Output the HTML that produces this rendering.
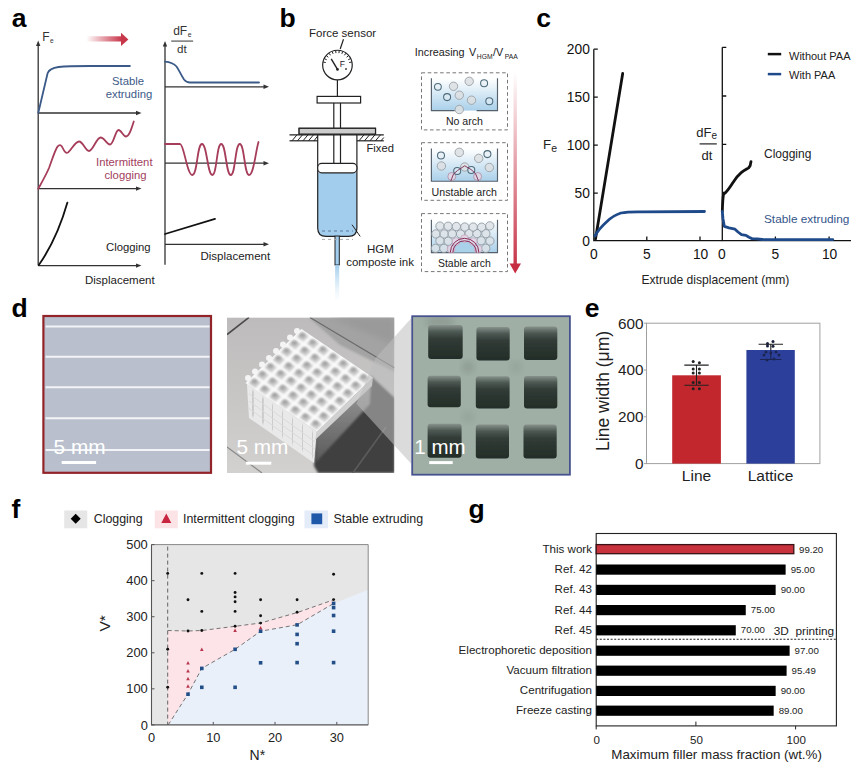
<!DOCTYPE html>
<html><head><meta charset="utf-8">
<style>
html,body{margin:0;padding:0;background:#fff;}
body{width:857px;height:768px;overflow:hidden;}
svg{display:block;font-family:"Liberation Sans",Arial,sans-serif;}
.lbl{font-weight:bold;font-size:26.5px;fill:#000;}
</style></head><body>
<svg width="857" height="768" viewBox="0 0 857 768">
<defs>
  <linearGradient id="gArrowR" x1="0" x2="1" y1="0" y2="0">
    <stop offset="0" stop-color="#c8364a" stop-opacity="0"/>
    <stop offset="1" stop-color="#c8364a" stop-opacity="1"/>
  </linearGradient>
  <linearGradient id="gArrowD" x1="0" x2="0" y1="0" y2="1">
    <stop offset="0" stop-color="#c8364a" stop-opacity="0"/>
    <stop offset="1" stop-color="#c8364a" stop-opacity="1"/>
  </linearGradient>
  <linearGradient id="gBeaker" x1="0" x2="0" y1="0" y2="1">
    <stop offset="0" stop-color="#ffffff"/>
    <stop offset="1" stop-color="#a9d0ea"/>
  </linearGradient>
  <linearGradient id="gStream" x1="0" x2="0" y1="0" y2="1">
    <stop offset="0" stop-color="#9ecbeb" stop-opacity="0.95"/>
    <stop offset="0.5" stop-color="#b8daf1" stop-opacity="0.5"/>
    <stop offset="1" stop-color="#d8ebf8" stop-opacity="0"/>
  </linearGradient>
  <radialGradient id="gBall" cx="0.4" cy="0.4" r="0.6">
    <stop offset="0" stop-color="#e8eaec"/>
    <stop offset="1" stop-color="#c4c9ce"/>
  </radialGradient>
  <marker id="ah" viewBox="0 0 10 10" refX="9" refY="5" markerWidth="6" markerHeight="6" orient="auto-start-reverse">
    <path d="M0,1 L10,5 L0,9 z" fill="#333"/>
  </marker>
</defs>

<!-- ================= PANEL A ================= -->
<text class="lbl" x="11.8" y="26.9">a</text>
<g stroke="#333" stroke-width="1.3" fill="none">
  <line x1="38.2" y1="265.6" x2="38.2" y2="44"/>
  <line x1="38.2" y1="113" x2="138" y2="113"/>
  <line x1="38.2" y1="188.6" x2="138" y2="188.6"/>
  <line x1="38.2" y1="265.6" x2="138" y2="265.6"/>
  <line x1="165" y1="264.8" x2="165" y2="44.5"/>
  <line x1="165" y1="86.8" x2="265.5" y2="86.8"/>
  <line x1="165" y1="163.2" x2="265.5" y2="163.2"/>
  <line x1="165" y1="244.3" x2="265.5" y2="244.3"/>
</g>
<g fill="#333">
  <path d="M38.2,40.5 L36,46 L40.4,46 z"/>
  <path d="M165,41 L162.8,46.5 L167.2,46.5 z"/>
  <path d="M141.5,113 L136,110.8 L136,115.2 z"/>
  <path d="M141.5,188.6 L136,186.4 L136,190.8 z"/>
  <path d="M141.5,265.6 L136,263.4 L136,267.8 z"/>
  <path d="M269,86.8 L263.5,84.6 L263.5,89 z"/>
  <path d="M269,163.2 L263.5,161 L263.5,165.4 z"/>
  <path d="M269,244.3 L263.5,242.1 L263.5,246.5 z"/>
</g>
<!-- arrow -->
<rect x="86.3" y="36.3" width="35.5" height="5.2" fill="url(#gArrowR)"/>
<path d="M121,32.7 L128.4,39.4 L121,45.9 z" fill="#c8364a"/>
<!-- curves -->
<g fill="none" stroke-width="1.8" stroke-linecap="round" stroke-linejoin="round">
  <path stroke="#3b5a88" d="M38.3,112.8 L47.6,73.2 C49,69.4 52,68 58.6,67 C66,66.2 78,66 90,66 L129.9,66"/>
  <path stroke="#3b5a88" d="M165,61.6 C170,62 173.5,63 176.5,66.5 C179,70 181,75 184,79.5 C186,82 187.5,82.5 190,82.5 L259,82.5"/>
  <path stroke="#a63d5a" d="M38.2,188.8 C42,182 45.5,176 49,168 C52,160 55,150 57.5,146.6 C59.8,144 61.5,145 63,148.5 C64.5,152 66,153.5 68,152.5 C71,150.5 75,141.5 79,141.5 C83,141.5 85.5,151 89,151 C93,151 96.5,137.5 100.6,137.5 C104.5,137.5 106.5,144.5 110,144.5 C113.5,144.5 115.5,130 118.5,130 C121.5,130 123,136.5 126,136.5 C129.5,136.5 131.5,128 133.8,121.5"/>
  <path stroke="#a63d5a" d="M165,144 L180,144 C184,144 187,175 192.3,175 C197.5,175 197,144 202,144 C207,144 207.5,175 212.3,175 C217,175 216.5,144 221.2,144 C226,144 226,175 230.8,175 C235.5,175 235,144 239.8,144 C244.5,144 244.3,175 249,175 C253.7,175 255.5,152 258.5,142"/>
  <path stroke="#111" d="M38.8,265 C48,252 59,232 67.4,202.6"/>
  <path stroke="#111" d="M165,234 L215,218.9"/>
</g>
<g font-size="11.3" fill="#333">
  <text x="42.2" y="41.1" font-size="12">F<tspan font-size="6.6" dy="1.7" dx="0.5">e</tspan></text>
  <text x="128" y="84.6" text-anchor="middle" fill="#3d5a88">Stable</text>
  <text x="129" y="97.7" text-anchor="middle" fill="#3d5a88">extruding</text>
  <text x="124.3" y="165.5" text-anchor="middle" fill="#a23d5c">Intermittent</text>
  <text x="125.5" y="179.4" text-anchor="middle" fill="#a23d5c">clogging</text>
  <text x="106" y="251" fill="#222">Clogging</text>
  <text x="85" y="283.5" fill="#222" font-size="11.5">Displacement</text>
  <text x="200.5" y="259.8" fill="#222" font-size="11.5">Displacement</text>
  <text x="173.2" y="34.9" font-size="12">dF<tspan font-size="6.8" dy="1.6" dx="0.6">e</tspan></text>
  <line x1="171.2" y1="41.1" x2="193.1" y2="41.1" stroke="#777" stroke-width="1.5"/>
  <text x="177.1" y="52.9" font-size="11.6">dt</text>
</g>

<!-- ================= PANEL B ================= -->
<text class="lbl" x="279.6" y="27.1">b</text>
<g font-size="11.5" fill="#222">
  <text x="309" y="37.1">Force sensor</text>
  <text x="366.5" y="151.8" font-size="11.2">Fixed</text>
  <text x="367" y="252.7" font-size="11.5">HGM</text>
  <text x="346.2" y="265.5" font-size="11.5">composte ink</text>
</g>
<g stroke="#222" stroke-width="1.2" fill="none">
  <line x1="343.5" y1="39.3" x2="340.2" y2="49"/>
  <circle cx="337.45" cy="65.05" r="14.8" fill="#fff"/>
  <line x1="337.4" y1="80" x2="337.4" y2="96.4"/>
  <rect x="317.1" y="96.4" width="43.5" height="6.6" fill="#fff"/>
  <rect x="299.1" y="128.3" width="76.4" height="5.8" fill="#ccc"/>
  <line x1="289.5" y1="134.8" x2="383.8" y2="134.8"/>
  <line x1="289.5" y1="140.8" x2="317.7" y2="140.8"/>
  <line x1="356.9" y1="140.8" x2="383.8" y2="140.8"/>
</g>
<g stroke="#222" stroke-width="1">
  <path d="M292,140.8 L297,134.8 M297.5,140.8 L302.5,134.8 M303,140.8 L308,134.8 M308.5,140.8 L313.5,134.8 M314,140.8 L317.7,136"/>
  <path d="M359,140.8 L364,134.8 M364.5,140.8 L369.5,134.8 M370,140.8 L375,134.8 M375.5,140.8 L380.5,134.8 M381,140.8 L383.8,137.5"/>
</g>
<!-- gauge ticks -->
<g stroke="#222" stroke-width="1"><line x1="323.17" y1="62.01" x2="325.71" y2="62.56"/><line x1="324.35" y1="58.61" x2="326.68" y2="59.76"/><line x1="326.33" y1="55.59" x2="328.31" y2="57.28"/><line x1="328.98" y1="53.16" x2="330.49" y2="55.28"/><line x1="332.15" y1="51.44" x2="333.1" y2="53.87"/><line x1="335.65" y1="50.56" x2="335.97" y2="53.14"/><line x1="339.25" y1="50.56" x2="338.93" y2="53.14"/><line x1="342.75" y1="51.44" x2="341.8" y2="53.87"/><line x1="345.92" y1="53.16" x2="344.41" y2="55.28"/><line x1="348.57" y1="55.59" x2="346.59" y2="57.28"/><line x1="350.55" y1="58.61" x2="348.22" y2="59.76"/><line x1="351.73" y1="62.01" x2="349.19" y2="62.56"/></g>
<path d="M337.5,69.4 L331.2,58.9" stroke="#222" stroke-width="1.4"/>
<circle cx="337.5" cy="69.4" r="1.3" fill="#222"/>
<text x="339.8" y="66.5" font-size="8.5" fill="#222">F</text>
<circle cx="346" cy="68.9" r="1" fill="#444"/>
<!-- syringe -->
<path d="M317.7,172.8 L356.9,172.8 L356.9,228 Q356.9,236.4 348.5,236.4 L326.1,236.4 Q317.7,236.4 317.7,228 z" fill="#a3cded"/>
<rect x="335" y="236" width="4.3" height="29" fill="#a3cded" stroke="#222" stroke-width="1"/>
<rect x="335.1" y="265" width="4.1" height="37" fill="url(#gStream)"/>
<g stroke="#222" stroke-width="1.2" fill="none">
  <path d="M317.7,134.8 L317.7,228 Q317.7,236.4 326.1,236.4 L335,236.4 M339.3,236.4 L348.5,236.4 Q356.9,236.4 356.9,228 L356.9,134.8"/>
  <path d="M333.8,103 L333.8,163.4 M340.5,103 L340.5,163.4"/>
  <rect x="317.7" y="163.4" width="39.2" height="9.4" rx="4" fill="#fff"/>
  <rect x="299.1" y="128.3" width="76.4" height="5.8" fill="#ccc"/>
  <line x1="352" y1="224.7" x2="360.2" y2="236.4" stroke-width="1"/>
</g>
<line x1="322" y1="231" x2="353" y2="231" stroke="#5a7a99" stroke-width="1" stroke-dasharray="3,3"/>
<line x1="322" y1="239.4" x2="353" y2="239.4" stroke="#aaa" stroke-width="1" stroke-dasharray="3,3"/>

<text transform="translate(414.8,55.5) scale(0.915,1)" font-size="11.8" fill="#222">Increasing <tspan dx="1.5">V</tspan><tspan font-size="7.4" dy="3.6" dx="0.8">HGM</tspan><tspan dy="-3.6" dx="0.4">/V</tspan><tspan font-size="7.4" dy="3.6" dx="1.8">PAA</tspan></text>
<g fill="none" stroke="#777" stroke-width="1" stroke-dasharray="3.6,2.6">
  <rect x="421.5" y="72.8" width="86" height="57.1"/>
  <rect x="421.5" y="142.7" width="86" height="57.6"/>
  <rect x="421.5" y="213.6" width="86" height="58"/>
</g>
<g>
  <rect x="431.4" y="78.3" width="66.1" height="32.3" fill="url(#gBeaker)"/>
  <rect x="431.4" y="148.5" width="66.1" height="32.7" fill="url(#gBeaker)"/>
  <rect x="431.4" y="219.8" width="66.1" height="32.8" fill="url(#gBeaker)"/>
</g>
<g stroke="#56616c" stroke-width="1.15" fill="none">
  <path d="M431.4,78.3 L431.4,110.6 L454.7,110.6 M476.6,110.6 L497.5,110.6 L497.5,78.3"/>
  <path d="M431.4,148.5 L431.4,181.2 L497.5,181.2 L497.5,148.5"/>
  <path d="M431.4,219.8 L431.4,252.6 L497.5,252.6 L497.5,219.8"/>
</g>
<circle cx="437.9" cy="86.8" r="3.4" fill="#e3edf3" fill-opacity="0.55" stroke="#4d6a7a" stroke-width="1.05"/><circle cx="453.5" cy="86.3" r="4.2" fill="#dcdfe2" fill-opacity="0.85" stroke="#9aa0a6" stroke-width="0.9"/><circle cx="469.2" cy="81.3" r="4.2" fill="#dcdfe2" fill-opacity="0.85" stroke="#9aa0a6" stroke-width="0.9"/><circle cx="484.1" cy="83.2" r="3.5" fill="#e3edf3" fill-opacity="0.55" stroke="#4d6a7a" stroke-width="1.05"/><circle cx="447.1" cy="97.1" r="3.5" fill="#e3edf3" fill-opacity="0.55" stroke="#4d6a7a" stroke-width="1.05"/><circle cx="459.3" cy="95.2" r="4.2" fill="#dcdfe2" fill-opacity="0.85" stroke="#9aa0a6" stroke-width="0.9"/><circle cx="471.5" cy="100.2" r="4.2" fill="#dcdfe2" fill-opacity="0.85" stroke="#9aa0a6" stroke-width="0.9"/><circle cx="489.3" cy="101.2" r="3.5" fill="#e3edf3" fill-opacity="0.55" stroke="#4d6a7a" stroke-width="1.05"/><circle cx="459.3" cy="109.5" r="4.2" fill="#dcdfe2" fill-opacity="0.85" stroke="#9aa0a6" stroke-width="0.9"/><circle cx="441" cy="155.5" r="3.5" fill="#e3edf3" fill-opacity="0.55" stroke="#4d6a7a" stroke-width="1.05"/><circle cx="459.3" cy="152.4" r="4.3" fill="#dcdfe2" fill-opacity="0.85" stroke="#9aa0a6" stroke-width="0.9"/><circle cx="478.7" cy="158.4" r="4.2" fill="#dcdfe2" fill-opacity="0.85" stroke="#9aa0a6" stroke-width="0.9"/><circle cx="487.4" cy="154.1" r="3.5" fill="#e3edf3" fill-opacity="0.55" stroke="#4d6a7a" stroke-width="1.05"/><circle cx="441.4" cy="166" r="4.2" fill="#dcdfe2" fill-opacity="0.85" stroke="#9aa0a6" stroke-width="0.9"/><circle cx="489.3" cy="167.5" r="4.2" fill="#dcdfe2" fill-opacity="0.85" stroke="#9aa0a6" stroke-width="0.9"/><circle cx="451.8" cy="176.5" r="4" fill="#e8d7e4" fill-opacity="0.8" stroke="#a98aa3" stroke-width="0.8"/><circle cx="457.2" cy="171" r="3.5" fill="#e3edf3" fill-opacity="0.55" stroke="#4d6a7a" stroke-width="1.05"/><circle cx="464.7" cy="167" r="4.2" fill="#dcdfe2" fill-opacity="0.85" stroke="#9aa0a6" stroke-width="0.9"/><circle cx="471.3" cy="170" r="3.5" fill="#e3edf3" fill-opacity="0.55" stroke="#4d6a7a" stroke-width="1.05"/><circle cx="477.6" cy="176.5" r="4" fill="#e8d7e4" fill-opacity="0.8" stroke="#a98aa3" stroke-width="0.8"/><path d="M450.8,181 L453.5,174 L457.5,170.5 L464.7,165.8 L471,169.5 L475.5,173.5 L478.5,181" fill="none" stroke="#7a2a55" stroke-width="0.9"/><circle cx="435.49" cy="248.33" r="4.15" fill="#dde2e6" fill-opacity="0.82" stroke="#8e979e" stroke-width="0.85"/><circle cx="443.9" cy="248.36" r="4.15" fill="#dde2e6" fill-opacity="0.82" stroke="#8e979e" stroke-width="0.85"/><circle cx="485.77" cy="248.29" r="4.15" fill="#dde2e6" fill-opacity="0.82" stroke="#8e979e" stroke-width="0.85"/><circle cx="439.96" cy="240.79" r="4.15" fill="#dde2e6" fill-opacity="0.82" stroke="#8e979e" stroke-width="0.85"/><circle cx="448.26" cy="241.22" r="4.15" fill="#dde2e6" fill-opacity="0.82" stroke="#8e979e" stroke-width="0.85"/><circle cx="481.19" cy="240.72" r="4.15" fill="#dde2e6" fill-opacity="0.82" stroke="#8e979e" stroke-width="0.85"/><circle cx="489.94" cy="240.98" r="4.15" fill="#dde2e6" fill-opacity="0.82" stroke="#8e979e" stroke-width="0.85"/><circle cx="435.88" cy="233.93" r="4.15" fill="#dde2e6" fill-opacity="0.82" stroke="#8e979e" stroke-width="0.85"/><circle cx="444.17" cy="233.95" r="4.15" fill="#dde2e6" fill-opacity="0.82" stroke="#8e979e" stroke-width="0.85"/><circle cx="452.22" cy="233.88" r="4.15" fill="#dde2e6" fill-opacity="0.82" stroke="#8e979e" stroke-width="0.85"/><circle cx="460.56" cy="233.96" r="4.15" fill="#dde2e6" fill-opacity="0.82" stroke="#8e979e" stroke-width="0.85"/><circle cx="469.2" cy="233.46" r="4.15" fill="#dde2e6" fill-opacity="0.82" stroke="#8e979e" stroke-width="0.85"/><circle cx="476.91" cy="233.53" r="4.15" fill="#dde2e6" fill-opacity="0.82" stroke="#8e979e" stroke-width="0.85"/><circle cx="485.87" cy="233.66" r="4.15" fill="#dde2e6" fill-opacity="0.82" stroke="#8e979e" stroke-width="0.85"/><circle cx="439.95" cy="226.08" r="4.15" fill="#dde2e6" fill-opacity="0.82" stroke="#8e979e" stroke-width="0.85"/><circle cx="448.16" cy="226.22" r="4.15" fill="#dde2e6" fill-opacity="0.82" stroke="#8e979e" stroke-width="0.85"/><circle cx="456.33" cy="226.54" r="4.15" fill="#dde2e6" fill-opacity="0.82" stroke="#8e979e" stroke-width="0.85"/><circle cx="464.82" cy="227.05" r="4.15" fill="#dde2e6" fill-opacity="0.82" stroke="#8e979e" stroke-width="0.85"/><circle cx="473.2" cy="227.09" r="4.15" fill="#dde2e6" fill-opacity="0.82" stroke="#8e979e" stroke-width="0.85"/><circle cx="481.64" cy="227.19" r="4.15" fill="#dde2e6" fill-opacity="0.82" stroke="#8e979e" stroke-width="0.85"/><circle cx="489.79" cy="225.86" r="4.15" fill="#dde2e6" fill-opacity="0.82" stroke="#8e979e" stroke-width="0.85"/><path d="M452.6,252.6 A12,12 0 0 1 476.6,252.6 z" fill="#a9d1ea"/><circle cx="451.1" cy="249.0" r="3.9" fill="#ead6e4" fill-opacity="0.75" stroke="#c0a0b8" stroke-width="0.7"/><circle cx="456.0" cy="241.6" r="3.9" fill="#ead6e4" fill-opacity="0.75" stroke="#c0a0b8" stroke-width="0.7"/><circle cx="464.6" cy="238.6" r="3.9" fill="#ead6e4" fill-opacity="0.75" stroke="#c0a0b8" stroke-width="0.7"/><circle cx="473.2" cy="241.6" r="3.9" fill="#ead6e4" fill-opacity="0.75" stroke="#c0a0b8" stroke-width="0.7"/><circle cx="478.1" cy="249.0" r="3.9" fill="#ead6e4" fill-opacity="0.75" stroke="#c0a0b8" stroke-width="0.7"/><path d="M450.3,252.6 A14.3,14.3 0 0 1 478.9,252.6 M452.8,252.6 A11.8,11.8 0 0 1 476.4,252.6" fill="none" stroke="#8a2a55" stroke-width="1"/>
<g font-size="11.3" fill="#222">
  <text x="464.4" y="125.2" text-anchor="middle" textLength="37" lengthAdjust="spacingAndGlyphs">No arch</text>
  <text x="464.3" y="196.4" text-anchor="middle" textLength="65.4" lengthAdjust="spacingAndGlyphs">Unstable arch</text>
  <text x="464.4" y="266.7" text-anchor="middle" textLength="52.8" lengthAdjust="spacingAndGlyphs">Stable arch</text>
</g>
<rect x="513.5" y="72" width="3.4" height="192" fill="url(#gArrowD)"/>
<path d="M509.6,263.5 L521,263.5 L515.2,273.6 z" fill="#c62d42"/>

<!-- ================= PANEL C ================= -->
<text class="lbl" x="536.2" y="27">c</text>
<g stroke="#111" stroke-width="1.3" fill="none">
  <path d="M593.8,49.2 L593.8,240.6 L722.3,240.6"/>
  <path d="M593.8,49.2 L597.8,49.2 M593.8,97.1 L597.8,97.1 M593.8,145.2 L597.8,145.2 M593.8,193.2 L597.8,193.2"/>
  <path d="M646.8,240.6 L646.8,236.5 M700,240.6 L700,236.5"/>
  <path d="M722.3,47.3 L722.3,240.6 L851,240.6"/>
  <path d="M722.3,47.3 L726.3,47.3 M722.3,96 L726.3,96 M722.3,144.3 L726.3,144.3 M722.3,192.5 L726.3,192.5"/>
  <path d="M775.4,240.6 L775.4,236.5 M829.1,240.6 L829.1,236.5"/>
</g>
<g font-size="13.8" fill="#111" text-anchor="end">
  <text x="589.9" y="54.3">200</text>
  <text x="589.9" y="102.2">150</text>
  <text x="589.9" y="150.3">100</text>
  <text x="589.9" y="198.3">50</text>
  <text x="589.9" y="245.9">0</text>
</g>
<g font-size="13.8" fill="#111" text-anchor="middle">
  <text x="593.8" y="258.7">0</text>
  <text x="646.8" y="258.7">5</text>
  <text x="700.6" y="258.7">10</text>
  <text x="721.9" y="258.7">0</text>
  <text x="775.4" y="258.7">5</text>
  <text x="829.6" y="258.7">10</text>
</g>
<g fill="none" stroke-width="2.8" stroke-linejoin="round" stroke-linecap="round">
  <path stroke="#111" d="M595.5,239 L622.7,73.5"/>
  <path stroke="#1f4a8a" d="M595,236 C598,230 602,226 607,221.5 C611,217.5 615,215 620.9,213 C628,211.5 636,211.8 642,211.8 L704.5,211.5"/>
  <path stroke="#111" d="M722.3,211.5 C722.6,203 722.8,197 723.6,194 L725.6,192.6 C728,190.3 730.5,186.5 733,182.6 C735.5,178.6 738.5,174.8 741.2,172.6 C744,170.3 746.5,169.2 748.6,167.9 L750.2,165.6 L751,161.6"/>
  <path stroke="#1f4a8a" d="M722.3,211.3 L723,219 L724.3,226.3 L729,227.8 L735,229.2 L738,232 L741.5,234.7 L746,235.4 L749,237.3 L752,238.6 L757,238.9 L762,239.5 L832.8,239.6"/>
</g>
<line x1="767.8" y1="54.1" x2="781.2" y2="54.1" stroke="#111" stroke-width="2.5"/>
<line x1="767.8" y1="74.1" x2="781.2" y2="74.1" stroke="#1f4a8a" stroke-width="2.5"/>
<g font-size="11" fill="#222">
  <text x="789" y="59.7">Without PAA</text>
  <text x="789" y="78.9">With PAA</text>
  <text x="764" y="157.6" font-size="12">Clogging</text>
  <text x="764" y="223.4" font-size="11.8" fill="#34558a">Stable extruding</text>
  <text x="641.5" y="283.6" font-size="12.1">Extrude displacement (mm)</text>
  <text x="543" y="148.8" font-size="13.3">F<tspan font-size="10.5" dy="3.2">e</tspan></text>
  <text x="696.3" y="136.8" font-size="13">dF<tspan font-size="10" dy="2.6">e</tspan></text>
  <line x1="699.6" y1="143.9" x2="716.8" y2="143.9" stroke="#222" stroke-width="1.2"/>
  <text x="701.5" y="159.8" font-size="13">dt</text>
</g>
<text class="lbl" x="11.6" y="316.7">d</text>
<rect x="43.4" y="316" width="167.6" height="156.8" fill="#b9bfcc" stroke="#922429" stroke-width="2.2"/>
<line x1="45.6" y1="326.5" x2="209.5" y2="326.5" stroke="#f2f4f7" stroke-width="2"/>
<line x1="45.6" y1="356.8" x2="209.5" y2="356.8" stroke="#f2f4f7" stroke-width="2"/>
<line x1="45.6" y1="387.2" x2="209.5" y2="387.2" stroke="#f2f4f7" stroke-width="2"/>
<line x1="45.6" y1="418.2" x2="209.5" y2="418.2" stroke="#f2f4f7" stroke-width="2"/>
<line x1="45.6" y1="449.9" x2="209.5" y2="449.9" stroke="#f2f4f7" stroke-width="2"/>
<line x1="61.7" y1="462.5" x2="96.1" y2="462.5" stroke="#fff" stroke-width="3.2"/>
<text x="53.6" y="453.5" font-size="20.8" fill="#fff">5 mm</text>
<defs><clipPath id="cp2"><rect x="227" y="317.4" width="167.3" height="155.6"/></clipPath><filter id="bl1" x="-20%" y="-20%" width="140%" height="140%"><feGaussianBlur stdDeviation="1.2"/></filter><filter id="bl2" x="-20%" y="-20%" width="140%" height="140%"><feGaussianBlur stdDeviation="3"/></filter><filter id="bl05"><feGaussianBlur stdDeviation="0.6"/></filter><linearGradient id="gBg2" x1="0" y1="0" x2="0" y2="1"><stop offset="0" stop-color="#bdbbbb"/><stop offset="1" stop-color="#d2d1cf"/></linearGradient><linearGradient id="gSq" x1="0" y1="0" x2="0" y2="1"><stop offset="0" stop-color="#87928c"/><stop offset="0.2" stop-color="#4d5853"/><stop offset="0.42" stop-color="#313b36"/><stop offset="1" stop-color="#232d28"/></linearGradient></defs>
<g clip-path="url(#cp2)">
<rect x="227" y="317.4" width="167.3" height="155.6" fill="url(#gBg2)"/>
<path d="M309,317.4 L394.7,317.4 L394.7,372 L340,345 z" fill="#a3a3a3" filter="url(#bl1)"/>
<path d="M330,317.4 L394.7,317.4 L394.7,345 z" fill="#9a9a9a" filter="url(#bl2)"/>
<line x1="310" y1="317.4" x2="394.7" y2="368" stroke="#6a6a6a" stroke-width="1.2" filter="url(#bl05)"/>
<line x1="227" y1="334.5" x2="249" y2="317.4" stroke="#4a4a4a" stroke-width="1.6"/>
<line x1="227" y1="447" x2="262" y2="473" stroke="#8a8a8a" stroke-width="1.2" filter="url(#bl05)"/>
<defs><linearGradient id="gRF" x1="0" y1="0" x2="0" y2="1"><stop offset="0" stop-color="#a0a0a0"/><stop offset="1" stop-color="#5a5a5a"/></linearGradient></defs>
<path d="M316.5,436 L371.1,375.9 L394.7,398 L394.7,473 L318,473 L314,466 z" fill="#404040" filter="url(#bl1)"/>
<path d="M371.1,375.9 L316.5,436 L316,462 L370,404 z" fill="url(#gRF)" filter="url(#bl1)"/>
<line x1="352.8" y1="473" x2="386" y2="427" stroke="#5c5c5c" stroke-width="1.5" filter="url(#bl05)"/>
<path d="M246.9,383.75 L316.7,431.7 L314,463 L249,418 z" fill="#e9e9e9" filter="url(#bl05)"/>
<line x1="252.4" y1="390.5" x2="252.9" y2="416.5" stroke="#bcbcbc" stroke-width="2.4" filter="url(#bl08)"/>
<line x1="262.4" y1="397.4" x2="262.9" y2="423.4" stroke="#bcbcbc" stroke-width="2.4" filter="url(#bl08)"/>
<line x1="272.3" y1="404.2" x2="272.8" y2="430.2" stroke="#bcbcbc" stroke-width="2.4" filter="url(#bl08)"/>
<line x1="282.3" y1="411.1" x2="282.8" y2="437.1" stroke="#bcbcbc" stroke-width="2.4" filter="url(#bl08)"/>
<line x1="292.3" y1="417.9" x2="292.8" y2="443.9" stroke="#bcbcbc" stroke-width="2.4" filter="url(#bl08)"/>
<line x1="302.2" y1="424.8" x2="302.7" y2="450.8" stroke="#bcbcbc" stroke-width="2.4" filter="url(#bl08)"/>
<line x1="312.2" y1="431.6" x2="312.7" y2="457.6" stroke="#bcbcbc" stroke-width="2.4" filter="url(#bl08)"/>
<line x1="249" y1="393.8" x2="315" y2="441.7" stroke="#dadada" stroke-width="1" filter="url(#bl05)"/>
<line x1="249" y1="401.1" x2="315" y2="449.0" stroke="#dadada" stroke-width="1" filter="url(#bl05)"/>
<line x1="249" y1="408.4" x2="315" y2="456.4" stroke="#dadada" stroke-width="1" filter="url(#bl05)"/>
<path d="M316.7,431.7 L372.9,377.5 L372,386 L315,440 z" fill="#d0d0d0" filter="url(#bl05)"/>
<filter id="bl08" x="-30%" y="-30%" width="160%" height="160%"><feGaussianBlur stdDeviation="0.9"/></filter>
<path d="M301.5,329 L372.9,377.5 L316.9,431.5 L245.5,383 z" fill="#fafafa" filter="url(#bl05)"/>
<path d="M301.9,331.6 L308.8,336.3 L303.4,341.6 L296.5,336.9 z" fill="#c9c9c9" filter="url(#bl08)"/>
<ellipse cx="302.4" cy="335.2" rx="2.8" ry="2.2" fill="#a4a4a4" filter="url(#bl08)"/>
<path d="M293.9,339.4 L300.8,344.1 L295.4,349.3 L288.5,344.6 z" fill="#c9c9c9" filter="url(#bl08)"/>
<ellipse cx="294.4" cy="342.9" rx="2.8" ry="2.2" fill="#a4a4a4" filter="url(#bl08)"/>
<path d="M285.9,347.1 L292.8,351.8 L287.4,357.0 L280.5,352.3 z" fill="#c9c9c9" filter="url(#bl08)"/>
<ellipse cx="286.4" cy="350.6" rx="2.8" ry="2.2" fill="#a4a4a4" filter="url(#bl08)"/>
<path d="M277.9,354.8 L284.8,359.5 L279.4,364.7 L272.5,360.0 z" fill="#c9c9c9" filter="url(#bl08)"/>
<ellipse cx="278.4" cy="358.3" rx="2.8" ry="2.2" fill="#a4a4a4" filter="url(#bl08)"/>
<path d="M269.9,362.5 L276.8,367.2 L271.4,372.4 L264.5,367.7 z" fill="#c9c9c9" filter="url(#bl08)"/>
<ellipse cx="270.4" cy="366.0" rx="2.8" ry="2.2" fill="#a4a4a4" filter="url(#bl08)"/>
<path d="M261.9,370.2 L268.8,374.9 L263.4,380.2 L256.5,375.5 z" fill="#c9c9c9" filter="url(#bl08)"/>
<ellipse cx="262.4" cy="373.7" rx="2.8" ry="2.2" fill="#a4a4a4" filter="url(#bl08)"/>
<path d="M253.9,377.9 L260.8,382.6 L255.4,387.9 L248.5,383.2 z" fill="#c9c9c9" filter="url(#bl08)"/>
<ellipse cx="254.4" cy="381.4" rx="2.8" ry="2.2" fill="#a4a4a4" filter="url(#bl08)"/>
<path d="M312.1,338.6 L319.0,343.3 L313.6,348.5 L306.7,343.8 z" fill="#c9c9c9" filter="url(#bl08)"/>
<ellipse cx="312.6" cy="342.1" rx="2.8" ry="2.2" fill="#a4a4a4" filter="url(#bl08)"/>
<path d="M304.1,346.3 L311.0,351.0 L305.6,356.2 L298.7,351.5 z" fill="#c9c9c9" filter="url(#bl08)"/>
<ellipse cx="304.6" cy="349.8" rx="2.8" ry="2.2" fill="#a4a4a4" filter="url(#bl08)"/>
<path d="M296.1,354.0 L303.0,358.7 L297.6,363.9 L290.7,359.2 z" fill="#c9c9c9" filter="url(#bl08)"/>
<ellipse cx="296.6" cy="357.5" rx="2.8" ry="2.2" fill="#a4a4a4" filter="url(#bl08)"/>
<path d="M288.1,361.7 L295.0,366.4 L289.6,371.7 L282.7,367.0 z" fill="#c9c9c9" filter="url(#bl08)"/>
<ellipse cx="288.6" cy="365.2" rx="2.8" ry="2.2" fill="#a4a4a4" filter="url(#bl08)"/>
<path d="M280.1,369.4 L287.0,374.1 L281.6,379.4 L274.7,374.7 z" fill="#c9c9c9" filter="url(#bl08)"/>
<ellipse cx="280.6" cy="372.9" rx="2.8" ry="2.2" fill="#a4a4a4" filter="url(#bl08)"/>
<path d="M272.1,377.1 L279.0,381.8 L273.6,387.1 L266.7,382.4 z" fill="#c9c9c9" filter="url(#bl08)"/>
<ellipse cx="272.6" cy="380.6" rx="2.8" ry="2.2" fill="#a4a4a4" filter="url(#bl08)"/>
<path d="M264.1,384.8 L271.0,389.6 L265.6,394.8 L258.7,390.1 z" fill="#c9c9c9" filter="url(#bl08)"/>
<ellipse cx="264.6" cy="388.4" rx="2.8" ry="2.2" fill="#a4a4a4" filter="url(#bl08)"/>
<path d="M322.3,345.5 L329.2,350.2 L323.8,355.5 L316.9,350.7 z" fill="#c9c9c9" filter="url(#bl08)"/>
<ellipse cx="322.8" cy="349.0" rx="2.8" ry="2.2" fill="#a4a4a4" filter="url(#bl08)"/>
<path d="M314.3,353.2 L321.2,357.9 L315.8,363.2 L308.9,358.5 z" fill="#c9c9c9" filter="url(#bl08)"/>
<ellipse cx="314.8" cy="356.7" rx="2.8" ry="2.2" fill="#a4a4a4" filter="url(#bl08)"/>
<path d="M306.3,360.9 L313.2,365.6 L307.8,370.9 L300.9,366.2 z" fill="#c9c9c9" filter="url(#bl08)"/>
<ellipse cx="306.8" cy="364.4" rx="2.8" ry="2.2" fill="#a4a4a4" filter="url(#bl08)"/>
<path d="M298.3,368.6 L305.2,373.3 L299.8,378.6 L292.9,373.9 z" fill="#c9c9c9" filter="url(#bl08)"/>
<ellipse cx="298.8" cy="372.1" rx="2.8" ry="2.2" fill="#a4a4a4" filter="url(#bl08)"/>
<path d="M290.3,376.4 L297.2,381.1 L291.8,386.3 L284.9,381.6 z" fill="#c9c9c9" filter="url(#bl08)"/>
<ellipse cx="290.8" cy="379.9" rx="2.8" ry="2.2" fill="#a4a4a4" filter="url(#bl08)"/>
<path d="M282.3,384.1 L289.2,388.8 L283.8,394.0 L276.9,389.3 z" fill="#c9c9c9" filter="url(#bl08)"/>
<ellipse cx="282.8" cy="387.6" rx="2.8" ry="2.2" fill="#a4a4a4" filter="url(#bl08)"/>
<path d="M274.3,391.8 L281.2,396.5 L275.8,401.7 L268.9,397.0 z" fill="#c9c9c9" filter="url(#bl08)"/>
<ellipse cx="274.8" cy="395.3" rx="2.8" ry="2.2" fill="#a4a4a4" filter="url(#bl08)"/>
<path d="M332.5,352.4 L339.4,357.1 L334.0,362.4 L327.1,357.7 z" fill="#c9c9c9" filter="url(#bl08)"/>
<ellipse cx="333.0" cy="355.9" rx="2.8" ry="2.2" fill="#a4a4a4" filter="url(#bl08)"/>
<path d="M324.5,360.1 L331.4,364.8 L326.0,370.1 L319.1,365.4 z" fill="#c9c9c9" filter="url(#bl08)"/>
<ellipse cx="325.0" cy="363.7" rx="2.8" ry="2.2" fill="#a4a4a4" filter="url(#bl08)"/>
<path d="M316.5,367.9 L323.4,372.6 L318.0,377.8 L311.1,373.1 z" fill="#c9c9c9" filter="url(#bl08)"/>
<ellipse cx="317.0" cy="371.4" rx="2.8" ry="2.2" fill="#a4a4a4" filter="url(#bl08)"/>
<path d="M308.5,375.6 L315.4,380.3 L310.0,385.5 L303.1,380.8 z" fill="#c9c9c9" filter="url(#bl08)"/>
<ellipse cx="309.0" cy="379.1" rx="2.8" ry="2.2" fill="#a4a4a4" filter="url(#bl08)"/>
<path d="M300.5,383.3 L307.4,388.0 L302.0,393.2 L295.1,388.5 z" fill="#c9c9c9" filter="url(#bl08)"/>
<ellipse cx="301.0" cy="386.8" rx="2.8" ry="2.2" fill="#a4a4a4" filter="url(#bl08)"/>
<path d="M292.5,391.0 L299.4,395.7 L294.0,400.9 L287.1,396.2 z" fill="#c9c9c9" filter="url(#bl08)"/>
<ellipse cx="293.0" cy="394.5" rx="2.8" ry="2.2" fill="#a4a4a4" filter="url(#bl08)"/>
<path d="M284.5,398.7 L291.4,403.4 L286.0,408.7 L279.1,404.0 z" fill="#c9c9c9" filter="url(#bl08)"/>
<ellipse cx="285.0" cy="402.2" rx="2.8" ry="2.2" fill="#a4a4a4" filter="url(#bl08)"/>
<path d="M342.7,359.3 L349.6,364.1 L344.2,369.3 L337.3,364.6 z" fill="#c9c9c9" filter="url(#bl08)"/>
<ellipse cx="343.2" cy="362.9" rx="2.8" ry="2.2" fill="#a4a4a4" filter="url(#bl08)"/>
<path d="M334.7,367.1 L341.6,371.8 L336.2,377.0 L329.3,372.3 z" fill="#c9c9c9" filter="url(#bl08)"/>
<ellipse cx="335.2" cy="370.6" rx="2.8" ry="2.2" fill="#a4a4a4" filter="url(#bl08)"/>
<path d="M326.7,374.8 L333.6,379.5 L328.2,384.7 L321.3,380.0 z" fill="#c9c9c9" filter="url(#bl08)"/>
<ellipse cx="327.2" cy="378.3" rx="2.8" ry="2.2" fill="#a4a4a4" filter="url(#bl08)"/>
<path d="M318.7,382.5 L325.6,387.2 L320.2,392.4 L313.3,387.7 z" fill="#c9c9c9" filter="url(#bl08)"/>
<ellipse cx="319.2" cy="386.0" rx="2.8" ry="2.2" fill="#a4a4a4" filter="url(#bl08)"/>
<path d="M310.7,390.2 L317.6,394.9 L312.2,400.2 L305.3,395.5 z" fill="#c9c9c9" filter="url(#bl08)"/>
<ellipse cx="311.2" cy="393.7" rx="2.8" ry="2.2" fill="#a4a4a4" filter="url(#bl08)"/>
<path d="M302.7,397.9 L309.6,402.6 L304.2,407.9 L297.3,403.2 z" fill="#c9c9c9" filter="url(#bl08)"/>
<ellipse cx="303.2" cy="401.4" rx="2.8" ry="2.2" fill="#a4a4a4" filter="url(#bl08)"/>
<path d="M294.7,405.6 L301.6,410.3 L296.2,415.6 L289.3,410.9 z" fill="#c9c9c9" filter="url(#bl08)"/>
<ellipse cx="295.2" cy="409.1" rx="2.8" ry="2.2" fill="#a4a4a4" filter="url(#bl08)"/>
<path d="M352.9,366.3 L359.8,371.0 L354.4,376.2 L347.5,371.5 z" fill="#c9c9c9" filter="url(#bl08)"/>
<ellipse cx="353.4" cy="369.8" rx="2.8" ry="2.2" fill="#a4a4a4" filter="url(#bl08)"/>
<path d="M344.9,374.0 L351.8,378.7 L346.4,383.9 L339.5,379.2 z" fill="#c9c9c9" filter="url(#bl08)"/>
<ellipse cx="345.4" cy="377.5" rx="2.8" ry="2.2" fill="#a4a4a4" filter="url(#bl08)"/>
<path d="M336.9,381.7 L343.8,386.4 L338.4,391.7 L331.5,387.0 z" fill="#c9c9c9" filter="url(#bl08)"/>
<ellipse cx="337.4" cy="385.2" rx="2.8" ry="2.2" fill="#a4a4a4" filter="url(#bl08)"/>
<path d="M328.9,389.4 L335.8,394.1 L330.4,399.4 L323.5,394.7 z" fill="#c9c9c9" filter="url(#bl08)"/>
<ellipse cx="329.4" cy="392.9" rx="2.8" ry="2.2" fill="#a4a4a4" filter="url(#bl08)"/>
<path d="M320.9,397.1 L327.8,401.8 L322.4,407.1 L315.5,402.4 z" fill="#c9c9c9" filter="url(#bl08)"/>
<ellipse cx="321.4" cy="400.6" rx="2.8" ry="2.2" fill="#a4a4a4" filter="url(#bl08)"/>
<path d="M312.9,404.8 L319.8,409.6 L314.4,414.8 L307.5,410.1 z" fill="#c9c9c9" filter="url(#bl08)"/>
<ellipse cx="313.4" cy="408.4" rx="2.8" ry="2.2" fill="#a4a4a4" filter="url(#bl08)"/>
<path d="M304.9,412.6 L311.8,417.3 L306.4,422.5 L299.5,417.8 z" fill="#c9c9c9" filter="url(#bl08)"/>
<ellipse cx="305.4" cy="416.1" rx="2.8" ry="2.2" fill="#a4a4a4" filter="url(#bl08)"/>
<path d="M363.1,373.2 L370.0,377.9 L364.6,383.2 L357.7,378.5 z" fill="#c9c9c9" filter="url(#bl08)"/>
<ellipse cx="363.6" cy="376.7" rx="2.8" ry="2.2" fill="#a4a4a4" filter="url(#bl08)"/>
<path d="M355.1,380.9 L362.0,385.6 L356.6,390.9 L349.7,386.2 z" fill="#c9c9c9" filter="url(#bl08)"/>
<ellipse cx="355.6" cy="384.4" rx="2.8" ry="2.2" fill="#a4a4a4" filter="url(#bl08)"/>
<path d="M347.1,388.6 L354.0,393.3 L348.6,398.6 L341.7,393.9 z" fill="#c9c9c9" filter="url(#bl08)"/>
<ellipse cx="347.6" cy="392.2" rx="2.8" ry="2.2" fill="#a4a4a4" filter="url(#bl08)"/>
<path d="M339.1,396.4 L346.0,401.1 L340.6,406.3 L333.7,401.6 z" fill="#c9c9c9" filter="url(#bl08)"/>
<ellipse cx="339.6" cy="399.9" rx="2.8" ry="2.2" fill="#a4a4a4" filter="url(#bl08)"/>
<path d="M331.1,404.1 L338.0,408.8 L332.6,414.0 L325.7,409.3 z" fill="#c9c9c9" filter="url(#bl08)"/>
<ellipse cx="331.6" cy="407.6" rx="2.8" ry="2.2" fill="#a4a4a4" filter="url(#bl08)"/>
<path d="M323.1,411.8 L330.0,416.5 L324.6,421.7 L317.7,417.0 z" fill="#c9c9c9" filter="url(#bl08)"/>
<ellipse cx="323.6" cy="415.3" rx="2.8" ry="2.2" fill="#a4a4a4" filter="url(#bl08)"/>
<path d="M315.1,419.5 L322.0,424.2 L316.6,429.4 L309.7,424.7 z" fill="#c9c9c9" filter="url(#bl08)"/>
<ellipse cx="315.6" cy="423.0" rx="2.8" ry="2.2" fill="#a4a4a4" filter="url(#bl08)"/>
<circle cx="297.0" cy="330.9" r="3" fill="#f4f4f4" filter="url(#bl05)"/>
<circle cx="290.0" cy="337.6" r="3" fill="#f4f4f4" filter="url(#bl05)"/>
<circle cx="283.0" cy="344.4" r="3" fill="#f4f4f4" filter="url(#bl05)"/>
<circle cx="276.0" cy="351.1" r="3" fill="#f4f4f4" filter="url(#bl05)"/>
<circle cx="269.0" cy="357.9" r="3" fill="#f4f4f4" filter="url(#bl05)"/>
<circle cx="262.0" cy="364.6" r="3" fill="#f4f4f4" filter="url(#bl05)"/>
<circle cx="255.0" cy="371.4" r="3" fill="#f4f4f4" filter="url(#bl05)"/>
<circle cx="248.0" cy="378.1" r="3" fill="#f4f4f4" filter="url(#bl05)"/>
</g>
<line x1="245.9" y1="463.2" x2="271.3" y2="463.2" stroke="#fff" stroke-width="3"/>
<text x="236.4" y="453.5" font-size="20.8" fill="#fff">5 mm</text>
<path d="M375.5,358.2 L411.4,318 L411.4,464 L356.4,403.8 z" fill="#bdbdbd" fill-opacity="0.55"/>
<defs><clipPath id="cp3"><rect x="412.2" y="316.2" width="157.7" height="158.5"/></clipPath></defs>
<g clip-path="url(#cp3)"><rect x="412.2" y="316.2" width="157.7" height="158.5" fill="#9fafa5"/>
<ellipse cx="440" cy="322" rx="15" ry="6" fill="#8f9d95" filter="url(#bl2)"/>
<ellipse cx="468" cy="367" rx="6" ry="6" fill="#8f9d95" filter="url(#bl2)"/>
<ellipse cx="468" cy="417" rx="6" ry="6" fill="#97a59d" filter="url(#bl2)"/>
<ellipse cx="516" cy="367" rx="6" ry="6" fill="#97a59d" filter="url(#bl2)"/>
<rect x="428.2" y="325" width="34.5" height="34" rx="3" fill="url(#gSq)" filter="url(#bl05)"/>
<rect x="476.4" y="327" width="33.3" height="33.4" rx="3" fill="url(#gSq)" filter="url(#bl05)"/>
<rect x="524" y="326.5" width="33.3" height="33.4" rx="3" fill="url(#gSq)" filter="url(#bl05)"/>
<rect x="427.6" y="375.8" width="33.2" height="31.5" rx="3" fill="url(#gSq)" filter="url(#bl05)"/>
<rect x="475.8" y="376.3" width="33.8" height="32.2" rx="3" fill="url(#gSq)" filter="url(#bl05)"/>
<rect x="524" y="376" width="33.3" height="32.5" rx="3" fill="url(#gSq)" filter="url(#bl05)"/>
<rect x="427.6" y="423.8" width="34" height="34" rx="3" fill="url(#gSq)" filter="url(#bl05)"/>
<rect x="475.8" y="424.5" width="33.2" height="34" rx="3" fill="url(#gSq)" filter="url(#bl05)"/>
<rect x="523.5" y="424.5" width="33.2" height="34" rx="3" fill="url(#gSq)" filter="url(#bl05)"/>
</g>
<rect x="412.2" y="316.2" width="157.7" height="158.5" fill="none" stroke="#47538f" stroke-width="1.8"/>
<line x1="429.2" y1="462.6" x2="452.7" y2="462.6" stroke="#fff" stroke-width="3"/>
<text x="414.3" y="453.6" font-size="20.5" fill="#fff">1 mm</text>
<text class="lbl" x="584.8" y="317">e</text>
<rect x="646.5" y="323.2" width="173.4" height="140.4" fill="none" stroke="#a0a0a0" stroke-width="1"/>
<line x1="644" y1="463.6" x2="646.5" y2="463.6" stroke="#a0a0a0" stroke-width="1"/>
<text x="643.6" y="469" font-size="15.3" text-anchor="end" fill="#222">0</text>
<line x1="644" y1="416.8" x2="646.5" y2="416.8" stroke="#a0a0a0" stroke-width="1"/>
<text x="643.6" y="422.2" font-size="15.3" text-anchor="end" fill="#222">200</text>
<line x1="644" y1="370" x2="646.5" y2="370" stroke="#a0a0a0" stroke-width="1"/>
<text x="643.6" y="375.4" font-size="15.3" text-anchor="end" fill="#222">400</text>
<line x1="644" y1="323.2" x2="646.5" y2="323.2" stroke="#a0a0a0" stroke-width="1"/>
<text x="643.6" y="328.6" font-size="15.3" text-anchor="end" fill="#222">600</text>
<rect x="672.2" y="375.3" width="48.7" height="88.3" fill="#c1272d"/>
<rect x="746.4" y="350" width="48.4" height="113.6" fill="#2c409b"/>
<g stroke="#222" stroke-width="1.1"><path d="M696.5,365.1 L696.5,385.3 M684.3,365.1 L708.7,365.1 M684.3,385.3 L708.7,385.3"/><path d="M770.8,344.3 L770.8,350 M758.6,344.3 L783,344.3"/></g>
<path d="M770.8,350 L770.8,359.5 M760,359.5 L781.5,359.5" stroke="#1c2552" stroke-width="1.1"/>
<circle cx="693.2" cy="361.6" r="1.5" fill="#222"/>
<circle cx="699.4" cy="362.7" r="1.5" fill="#222"/>
<circle cx="693.2" cy="368.9" r="1.5" fill="#222"/>
<circle cx="699.4" cy="368.9" r="1.5" fill="#222"/>
<circle cx="693.2" cy="373.1" r="1.5" fill="#222"/>
<circle cx="699.4" cy="373.1" r="1.5" fill="#222"/>
<circle cx="693.2" cy="382.6" r="1.5" fill="#222"/>
<circle cx="699.4" cy="382.6" r="1.5" fill="#222"/>
<circle cx="693.2" cy="388.8" r="1.5" fill="#222"/>
<circle cx="699.4" cy="388.8" r="1.5" fill="#222"/>
<circle cx="767.5" cy="343.4" r="1.5" fill="#1a1f3a"/>
<circle cx="773" cy="341.6" r="1.5" fill="#1a1f3a"/>
<circle cx="767.5" cy="346" r="1.5" fill="#1a1f3a"/>
<circle cx="773" cy="346.3" r="1.5" fill="#1a1f3a"/>
<circle cx="766" cy="352" r="1.5" fill="#1c2552"/>
<circle cx="770.8" cy="353" r="1.5" fill="#1c2552"/>
<circle cx="776" cy="352" r="1.5" fill="#1c2552"/>
<circle cx="764" cy="355" r="1.5" fill="#1c2552"/>
<circle cx="779" cy="355" r="1.5" fill="#1c2552"/>
<circle cx="767" cy="360" r="1.5" fill="#1c2552"/>
<circle cx="774" cy="359" r="1.5" fill="#1c2552"/>
<text x="696.5" y="480.7" font-size="15.5" text-anchor="middle" fill="#222">Line</text>
<text x="770.6" y="480.7" font-size="15.5" text-anchor="middle" fill="#222">Lattice</text>
<text transform="translate(609.2,390.9) rotate(-90)" font-size="17.5" text-anchor="middle" fill="#222">Line width (μm)</text>
<text class="lbl" x="11.6" y="518.3">f</text>
<rect x="64.2" y="510.5" width="23.1" height="17.8" fill="#e6e6e6"/>
<path d="M75.7,513.8 L80.7,518.8 L75.7,523.8 L70.7,518.8 z" fill="#000"/>
<text x="93.7" y="523.3" font-size="12.4" fill="#222">Clogging</text>
<rect x="154.7" y="510.5" width="23.1" height="17.8" fill="#fbe3e6"/>
<path d="M166.3,513.6 L171.3,522.9 L161.3,522.9 z" fill="#c8243f"/>
<text x="183" y="523.3" font-size="12.4" fill="#222">Intermittent clogging</text>
<rect x="304.5" y="510.5" width="23.5" height="17.8" fill="#e3ecf8"/>
<rect x="311.4" y="513.4" width="10.8" height="10.8" fill="#1f58a8"/>
<text x="333.6" y="523.3" font-size="12.4" fill="#222">Stable extruding</text>
<rect x="151.5" y="544.6" width="216.7" height="180.3" fill="#e6e6e6"/>
<path d="M167.7,630.5 L167.7,630.5 L188,631 L201.8,630.5 L235.1,626.3 L260.6,623 L297.1,612.6 L333.6,599.8 L333.6,603.5 L297.1,624.8 L260.6,631.2 L235.1,649.3 L201.8,668.4 L188,694 L168.2,724.9 L167.7,724.9 z" fill="#fce4e8"/>
<path d="M168.2,724.9 L188,694 L201.8,668.4 L235.1,649.3 L260.6,631.2 L297.1,624.8 L333.6,603.5 L368.2,589.8 L368.2,724.9 z" fill="#e9f0fa"/>
<line x1="167.7" y1="546.6" x2="167.7" y2="724.9" stroke="#555" stroke-width="0.9" stroke-dasharray="4,3"/>
<path d="M167.7,630.5 L188,631 L201.8,630.5 L235.1,626.3 L260.6,623 L297.1,612.6 L333.6,599.8" fill="none" stroke="#666" stroke-width="0.9" stroke-dasharray="4,3"/>
<path d="M168.2,724.9 L188,694 L201.8,668.4 L235.1,649.3 L260.6,631.2 L297.1,624.8 L333.6,603.5" fill="none" stroke="#666" stroke-width="0.9" stroke-dasharray="4,3"/>
<path d="M151.5,544.6 L368.2,544.6 L368.2,724.9" fill="none" stroke="#888" stroke-width="1"/>
<path d="M151.5,544.6 L151.5,724.9 L368.2,724.9" fill="none" stroke="#555" stroke-width="1.1"/>
<line x1="151.5" y1="724.9" x2="154.5" y2="724.9" stroke="#555" stroke-width="1"/>
<text x="147.8" y="729.5" font-size="12.9" text-anchor="end" fill="#222">0</text>
<line x1="151.5" y1="688.84" x2="154.5" y2="688.84" stroke="#555" stroke-width="1"/>
<text x="147.8" y="693.44" font-size="12.9" text-anchor="end" fill="#222">100</text>
<line x1="151.5" y1="652.78" x2="154.5" y2="652.78" stroke="#555" stroke-width="1"/>
<text x="147.8" y="657.38" font-size="12.9" text-anchor="end" fill="#222">200</text>
<line x1="151.5" y1="616.72" x2="154.5" y2="616.72" stroke="#555" stroke-width="1"/>
<text x="147.8" y="621.32" font-size="12.9" text-anchor="end" fill="#222">300</text>
<line x1="151.5" y1="580.66" x2="154.5" y2="580.66" stroke="#555" stroke-width="1"/>
<text x="147.8" y="585.26" font-size="12.9" text-anchor="end" fill="#222">400</text>
<line x1="151.5" y1="544.6" x2="154.5" y2="544.6" stroke="#555" stroke-width="1"/>
<text x="147.8" y="549.2" font-size="12.9" text-anchor="end" fill="#222">500</text>
<line x1="151.5" y1="724.9" x2="151.5" y2="721.9" stroke="#555" stroke-width="1"/>
<text x="151.5" y="742" font-size="12.8" text-anchor="middle" fill="#222">0</text>
<line x1="213.27" y1="724.9" x2="213.27" y2="721.9" stroke="#555" stroke-width="1"/>
<text x="213.27" y="742" font-size="12.8" text-anchor="middle" fill="#222">10</text>
<line x1="275.03" y1="724.9" x2="275.03" y2="721.9" stroke="#555" stroke-width="1"/>
<text x="275.03" y="742" font-size="12.8" text-anchor="middle" fill="#222">20</text>
<line x1="336.8" y1="724.9" x2="336.8" y2="721.9" stroke="#555" stroke-width="1"/>
<text x="336.8" y="742" font-size="12.8" text-anchor="middle" fill="#222">30</text>
<text x="257.4" y="760.4" font-size="14" text-anchor="middle" fill="#222">N*</text>
<text transform="translate(109.8,623.3) rotate(-90)" font-size="15.5" text-anchor="middle" fill="#222">V*</text>
<circle cx="167.7" cy="573.4" r="1.45" fill="#111"/>
<circle cx="167.7" cy="649.3" r="1.45" fill="#111"/>
<circle cx="167.7" cy="687.3" r="1.45" fill="#111"/>
<circle cx="188" cy="599.8" r="1.45" fill="#111"/>
<circle cx="188" cy="631" r="1.45" fill="#111"/>
<circle cx="201.8" cy="573.4" r="1.45" fill="#111"/>
<circle cx="201.8" cy="611.4" r="1.45" fill="#111"/>
<circle cx="201.8" cy="630.5" r="1.45" fill="#111"/>
<circle cx="235.1" cy="573.4" r="1.45" fill="#111"/>
<circle cx="235.1" cy="592.5" r="1.45" fill="#111"/>
<circle cx="235.1" cy="596.9" r="1.45" fill="#111"/>
<circle cx="235.1" cy="601.8" r="1.45" fill="#111"/>
<circle cx="235.1" cy="611.4" r="1.45" fill="#111"/>
<circle cx="235.1" cy="626.3" r="1.45" fill="#111"/>
<circle cx="260.6" cy="599.8" r="1.45" fill="#111"/>
<circle cx="260.6" cy="615.8" r="1.45" fill="#111"/>
<circle cx="260.6" cy="623.1" r="1.45" fill="#111"/>
<circle cx="297.1" cy="599.8" r="1.45" fill="#111"/>
<circle cx="297.1" cy="612.3" r="1.45" fill="#111"/>
<circle cx="333.6" cy="574.3" r="1.45" fill="#111"/>
<circle cx="333.6" cy="599.6" r="1.45" fill="#111"/>
<path d="M188,661 L189.8,664.5 L186.2,664.5 z" fill="#b8344c"/>
<path d="M188,668.9 L189.8,672.4 L186.2,672.4 z" fill="#b8344c"/>
<path d="M188,676.7 L189.8,680.2 L186.2,680.2 z" fill="#b8344c"/>
<path d="M188,684.3 L189.8,687.8 L186.2,687.8 z" fill="#b8344c"/>
<path d="M201.8,647.6 L203.6,651.1 L200,651.1 z" fill="#b8344c"/>
<path d="M235.1,628.5 L236.9,632 L233.3,632 z" fill="#b8344c"/>
<path d="M260.6,626 L262.4,629.5 L258.8,629.5 z" fill="#b8344c"/>
<rect x="186.2" y="692.4" width="3.6" height="3.6" fill="#234f88"/>
<rect x="200" y="666.6" width="3.6" height="3.6" fill="#234f88"/>
<rect x="200" y="685.5" width="3.6" height="3.6" fill="#234f88"/>
<rect x="233.3" y="647.5" width="3.6" height="3.6" fill="#234f88"/>
<rect x="233.3" y="685.5" width="3.6" height="3.6" fill="#234f88"/>
<rect x="258.8" y="629.4" width="3.6" height="3.6" fill="#234f88"/>
<rect x="258.8" y="661" width="3.6" height="3.6" fill="#234f88"/>
<rect x="295.3" y="623.1" width="3.6" height="3.6" fill="#234f88"/>
<rect x="295.3" y="632.6" width="3.6" height="3.6" fill="#234f88"/>
<rect x="295.3" y="641.9" width="3.6" height="3.6" fill="#234f88"/>
<rect x="295.3" y="660.8" width="3.6" height="3.6" fill="#234f88"/>
<rect x="331.8" y="601.6" width="3.6" height="3.6" fill="#234f88"/>
<rect x="331.8" y="605.8" width="3.6" height="3.6" fill="#234f88"/>
<rect x="331.8" y="613.7" width="3.6" height="3.6" fill="#234f88"/>
<rect x="331.8" y="629.4" width="3.6" height="3.6" fill="#234f88"/>
<rect x="331.8" y="660.8" width="3.6" height="3.6" fill="#234f88"/>
<text class="lbl" x="468.5" y="518.1">g</text>
<rect x="596.2" y="533.5" width="240.2" height="192.4" fill="none" stroke="#222" stroke-width="1.1"/>
<rect x="596.2" y="544.6" width="197.6" height="9.1" fill="#c8323c" stroke="#3a1216" stroke-width="1.3"/>
<text x="799" y="553.1" font-size="9.7" fill="#222">99.20</text>
<text x="592" y="553.4" font-size="11.6" text-anchor="end" fill="#222">This work</text>
<rect x="596.2" y="564.5" width="189.43" height="10.2" fill="#000"/>
<text x="790.63" y="572.7" font-size="9.7" fill="#222">95.00</text>
<text x="592" y="573" font-size="11.6" text-anchor="end" fill="#222">Ref. 42</text>
<rect x="596.2" y="584.8" width="179.46" height="10.2" fill="#000"/>
<text x="780.66" y="593" font-size="9.7" fill="#222">90.00</text>
<text x="592" y="593.3" font-size="11.6" text-anchor="end" fill="#222">Ref. 43</text>
<rect x="596.2" y="605" width="149.55" height="10.2" fill="#000"/>
<text x="750.75" y="613.2" font-size="9.7" fill="#222">75.00</text>
<text x="592" y="613.5" font-size="11.6" text-anchor="end" fill="#222">Ref. 44</text>
<rect x="596.2" y="625.2" width="139.58" height="10.2" fill="#000"/>
<text x="740.78" y="633.4" font-size="9.7" fill="#222">70.00</text>
<text x="592" y="633.7" font-size="11.6" text-anchor="end" fill="#222">Ref. 45</text>
<rect x="596.2" y="645.6" width="193.42" height="10.2" fill="#000"/>
<text x="794.62" y="653.8" font-size="9.7" fill="#222">97.00</text>
<text x="592" y="654.1" font-size="11.6" text-anchor="end" fill="#222">Electrophoretic deposition</text>
<rect x="596.2" y="665.6" width="190.41" height="10.2" fill="#000"/>
<text x="791.61" y="673.8" font-size="9.7" fill="#222">95.49</text>
<text x="592" y="674.1" font-size="11.6" text-anchor="end" fill="#222">Vacuum filtration</text>
<rect x="596.2" y="685.8" width="179.46" height="10.2" fill="#000"/>
<text x="780.66" y="694" font-size="9.7" fill="#222">90.00</text>
<text x="592" y="694.3" font-size="11.6" text-anchor="end" fill="#222">Centrifugation</text>
<rect x="596.2" y="705.6" width="177.47" height="10.2" fill="#000"/>
<text x="778.67" y="713.8" font-size="9.7" fill="#222">89.00</text>
<text x="592" y="714.1" font-size="11.6" text-anchor="end" fill="#222">Freeze casting</text>
<text x="773.8" y="634.8" font-size="11.8" fill="#222" xml:space="preserve">3D  printing</text>
<line x1="596.2" y1="639.3" x2="836.4" y2="639.3" stroke="#222" stroke-width="1.1" stroke-dasharray="2,1.6"/>
<line x1="596.2" y1="725.9" x2="596.2" y2="729.4" stroke="#222" stroke-width="1"/>
<text x="596.8" y="743.7" font-size="11.6" text-anchor="middle" fill="#222">0</text>
<line x1="695.9" y1="725.9" x2="695.9" y2="721.6" stroke="#222" stroke-width="1"/>
<text x="696.5" y="743.7" font-size="11.6" text-anchor="middle" fill="#222">50</text>
<line x1="795.6" y1="725.9" x2="795.6" y2="729.4" stroke="#222" stroke-width="1"/>
<text x="796.2" y="743.7" font-size="11.6" text-anchor="middle" fill="#222">100</text>
<text x="716.6" y="759.3" font-size="13.35" text-anchor="middle" fill="#222">Maximum filler mass fraction (wt.%)</text>
</svg>

</body></html>
